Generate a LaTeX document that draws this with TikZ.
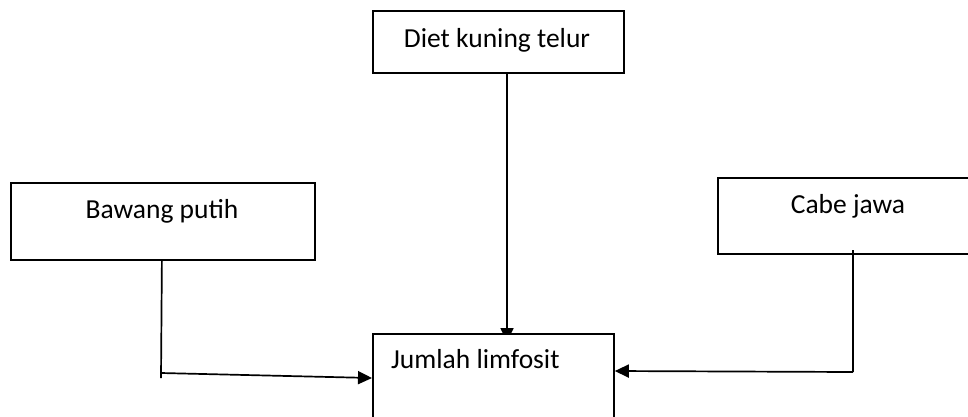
\documentclass[tikz,border=0pt]{standalone}
\usepackage{fontspec}
\setmainfont{Carlito}
\usetikzlibrary{arrows.meta}
\pgfdeclarelayer{background}
\pgfsetlayers{background,main}
\begin{document}
\begin{tikzpicture}[x=1pt,y=-1pt,
  box/.style={draw=black, fill=white, line width=1.8pt, rectangle, inner sep=0pt, anchor=north west},
  lbl/.style={inner sep=0pt, font=\fontsize{27.5}{33}\selectfont},
  wire/.style={draw=black, line width=1.7pt},
  arr/.style={wire, -{Triangle[length=14pt,width=13pt]}}]
\useasboundingbox (0,0) rectangle (968,416);

% boxes
\node[box, minimum width=251pt, minimum height=62pt] (diet) at (372,10) {};
\node[box, minimum width=304pt, minimum height=77pt] (bawang) at (10,182) {};
\node[box, minimum width=263pt, minimum height=76pt] (cabe) at (717,177) {};
\node[box, minimum width=241pt, minimum height=110pt] (jumlah) at (372,333) {};

% texts
\node[lbl, anchor=base] (tdiet) at (497,47) {Diet kuning telur};
\node[lbl, anchor=base] (tbawang) at (162,218) {Bawang putih};
\node[lbl, anchor=base] (tcabe) at (848,213) {Cabe jawa};
\node[lbl, anchor=base west] (tjumlah) at (391,368) {Jumlah limfosit};

% connector corner points
\coordinate (b1) at ([xshift=-1pt]bawang.south);
\coordinate (b2) at (161,378);
\coordinate (b3) at (161,373);
\coordinate (j1) at (jumlah.west |- 0,378);
\coordinate (c1) at (853,250);
\coordinate (c2) at (853,372);
\coordinate (j2) at (jumlah.east |- 0,371);
\coordinate (d1) at (507,72);
\coordinate (d2) at (507,342);

\begin{pgfonlayer}{background}
  \draw[arr] (d1) -- (d2);
\end{pgfonlayer}
\draw[wire] (b1) -- (b2);
\draw[arr] (b3) -- (j1);
\draw[wire] (c1) -- (c2);
\draw[arr] (c2) -- (j2);
\end{tikzpicture}
\end{document}
